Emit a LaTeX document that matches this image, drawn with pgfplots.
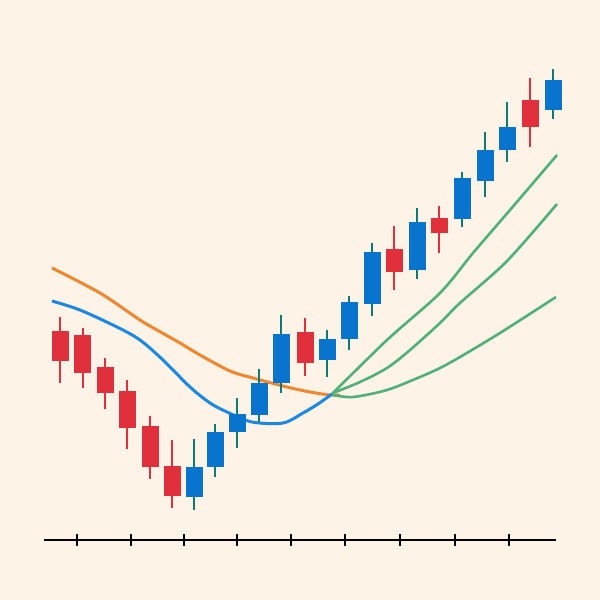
\documentclass[border=0pt]{standalone}
\usepackage{pgfplots}
\pgfplotsset{compat=1.18}
\usepackage{pgfplotstable}
\definecolor{bg}{RGB}{253,243,231}
\definecolor{cred}{RGB}{224,48,60}
\definecolor{cblue}{RGB}{8,116,206}
\definecolor{cteal}{RGB}{14,122,118}
\definecolor{lorange}{RGB}{240,134,48}
\definecolor{lblue}{RGB}{28,136,226}
\definecolor{lgreen}{RGB}{80,176,122}

% candles: x, open, high, low, close (y measured upward)
\pgfplotstableread{
x o h l c
194 103 161 90 133
215 133 176 123 168
237 168 202 152 186
259 185 231 178 217
281 217 285 207 266
327 240 270 223 261
349 261 304 250 298
372 296 357 284 348
417 330 392 321 378
462 381 428 373 422
485 419 468 403 450
507 450 498 438 473
553 490 531 481 520
}\up
\pgfplotstableread{
x o h l c
60 269 283 217 239
82.5 265 272 212 227
105 233 242 191 207
127 209 220 151 172
150 174 184 121 133
172 134 160 92 104
305 268 282 224 237
394 351 374 310 328
439 382 394 347 367
530 500 522 453 473
}\down

\begin{document}
\begin{tikzpicture}
\fill[bg] (-44bp,-60bp) rectangle (556bp,540bp);
\begin{axis}[
  scale only axis, width=512bp, height=480bp,
  xmin=44, xmax=556, ymin=60, ymax=540,
  clip=false,
  axis x line=bottom, axis y line=none,
  axis line style={black, line width=2bp, -},
  xtick={77,131,184,237,291,345,400,455,509},
  xticklabels={},
  xtick align=center,
  major tick length=11bp,
  tick style={black, line width=1.6bp},
]
% moving averages
\addplot[lorange, line width=3bp, smooth, mark=none] coordinates {
(52,332) (100,307) (140,280) (157,270) (180,257) (200,245) (230,229) (253,222) (287,213) (310,208) (330,205) (340,205)};
\addplot[lblue, line width=3bp, smooth, mark=none] coordinates {
(52,299) (80,290) (117,273) (140,260) (163,240) (190,213) (210,197) (227,188) (252,178) (283,177) (303,187) (318,196) (332,206)};
\addplot[lgreen, line width=2.6bp, smooth, mark=none] coordinates {
(332,206) (387,260) (440,307) (473,347) (510,390) (557,445)};
\addplot[lgreen, line width=2.6bp, smooth, mark=none] coordinates {
(333,207) (360,218) (387,232) (410,250) (440,277) (460,297) (507,339) (557,396)};
\addplot[lgreen, line width=2.6bp, smooth, mark=none] coordinates {
(333,205) (353,203) (387,210) (420,223) (440,232) (460,243) (500,267) (556,303)};
% wicks
\addplot[draw=none, no marks, error bars/.cd, y dir=plus, y explicit, error mark=none,
  error bar style={draw=cteal, line width=2bp}]
  table[x=x, y=l, y error plus expr=\thisrow{h}-\thisrow{l}] {\up};
\addplot[draw=none, no marks, error bars/.cd, y dir=plus, y explicit, error mark=none,
  error bar style={draw=cred, line width=2bp}]
  table[x=x, y=l, y error plus expr=\thisrow{h}-\thisrow{l}] {\down};
% bodies
\addplot[draw=none, no marks, error bars/.cd, y dir=plus, y explicit, error mark=none,
  error bar style={draw=cblue, line width=17bp}]
  table[x=x, y=o, y error plus expr=\thisrow{c}-\thisrow{o}] {\up};
\addplot[draw=none, no marks, error bars/.cd, y dir=plus, y explicit, error mark=none,
  error bar style={draw=cred, line width=17bp}]
  table[x=x, y=c, y error plus expr=\thisrow{o}-\thisrow{c}] {\down};
\end{axis}
\end{tikzpicture}
\end{document}
